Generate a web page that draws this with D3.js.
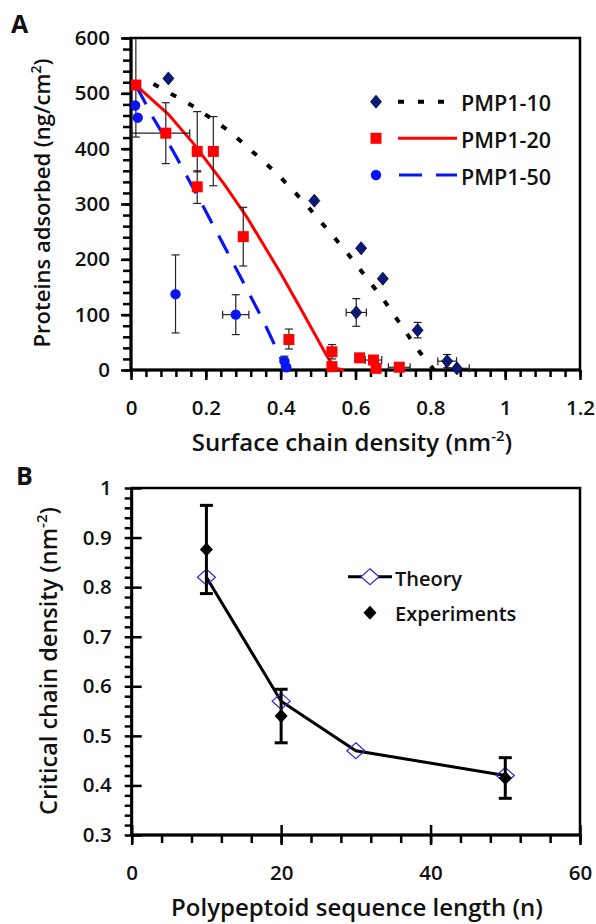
<!DOCTYPE html>
<html>
<head>
<meta charset="utf-8">
<script src="https://cdn.jsdelivr.net/npm/d3@7"></script>
<style>
  body { margin: 0; background: #fff; }
  svg text { font-family: "Open Sans", Lato, sans-serif; font-weight: 600; fill: #111; }
</style>
</head>
<body>
<svg id="main-vis"></svg>
<script>
// ---- panel A data: proteins adsorbed vs surface chain density ----
// points: [x, y, xlo, xhi, ylo, yhi] (null = no error bar)
const pmp10Points = [
  [0.10, 527, null, null, null, null],
  [0.49, 306, null, null, null, null],
  [0.615, 220, null, null, null, null],
  [0.673, 165, null, null, null, null],
  [0.602, 104, 0.575, 0.629, 79, 129],
  [0.766, 72, null, null, 58, 86],
  [0.845, 16, 0.82, 0.87, 4, 28],
  [0.871, 3, 0.84, 0.904, null, null]
];
const pmp20Points = [
  [0.013, 515, null, null, 421, 620],
  [0.093, 428, 0.002, 0.157, 373, 483],
  [0.177, 395, null, null, 358, 467],
  [0.177, 331, null, null, 301, 360],
  [0.22, 395, null, null, 333, 458],
  [0.30, 241, null, null, 188, 294],
  [0.422, 55, null, null, 38, 74],
  [0.537, 33, null, null, 20, 46],
  [0.537, 6, null, null, null, null],
  [0.611, 22, null, null, null, null],
  [0.648, 18, 0.626, 0.67, null, null],
  [0.655, 3, null, null, null, null],
  [0.717, 5, 0.688, 0.746, null, null]
];
const pmp50Points = [
  [0.011, 478, null, null, null, null],
  [0.018, 456, null, null, null, null],
  [0.119, 137, null, null, 67, 208],
  [0.28, 100, 0.245, 0.315, 64, 136],
  [0.41, 16, null, null, 7, 25],
  [0.415, 5, null, null, null, null]
];
// model curves
const pmp10Curve = [[0.06, 517], [0.171, 475], [0.264, 431], [0.389, 356], [0.464, 302], [0.573, 216], [0.675, 127], [0.771, 33], [0.81, 0]];
const pmp20Curve = [[0.013, 515], [0.1, 462], [0.166, 410], [0.25, 335], [0.309, 277], [0.4, 175], [0.451, 114], [0.522, 27], [0.545, 3], [0.57, 0]];
const pmp50Curve = [[0.015, 512], [0.06, 455], [0.113, 395], [0.184, 307], [0.264, 205], [0.353, 90], [0.415, 0]];

const aXTicks = [0, 0.2, 0.4, 0.6, 0.8, 1, 1.2];
const aXLabels = ["0", "0.2", "0.4", "0.6", "0.8", "1", "1.2"];
const aYTicks = [0, 100, 200, 300, 400, 500, 600];
const aYLabels = ["0", "100", "200", "300", "400", "500", "600"];
const aLegend = ["PMP1-10", "PMP1-20", "PMP1-50"];

// ---- panel B data: critical chain density vs sequence length ----
const seqLength = [10, 20, 30, 50];
const theory = [0.82, 0.57, 0.47, 0.42];
const expLength = [10, 20, 50];
const experiments = [0.876, 0.540, 0.415];
const expErr = [0.089, 0.054, 0.041];

const bXTicks = [0, 20, 40, 60];
const bXLabels = ["0", "20", "40", "60"];
const bYTicks = [0.3, 0.4, 0.5, 0.6, 0.7, 0.8, 0.9, 1];
const bYLabels = ["0.3", "0.4", "0.5", "0.6", "0.7", "0.8", "0.9", "1"];
const bLegend = ["Theory", "Experiments"];

const width = 596;
const height = 924;
const svg = d3.select("#main-vis").attr("width", width).attr("height", height);

const navy = "#0b1a78";
const red = "#ff0000";
const blue = "#0a14f5";
const tickFont = 20.5;
const titleFont = 24;

function diamond(w, h) {
  return `M0,${-h}L${w},0L0,${h}L${-w},0Z`;
}

// draw a framed axis box with major + minor ticks
function drawAxes(x, y, opt) {
  const [x0, x1] = x.range();
  const [y0, y1] = y.range(); // y0 bottom, y1 top
  const g = svg.append("g");

  // frame
  g.append("rect")
    .attr("x", x0).attr("y", y1)
    .attr("width", x1 - x0).attr("height", y0 - y1)
    .attr("fill", "none").attr("stroke", "#000").attr("stroke-width", 2.5);

  // minor ticks
  g.append("g").attr("transform", `translate(0,${y0})`)
    .call(d3.axisBottom(x).tickValues(opt.xMinor).tickSize(opt.xMinorLen).tickFormat(""))
    .call(a => a.select(".domain").remove());
  g.append("g").attr("transform", `translate(${x0},0)`)
    .call(d3.axisLeft(y).tickValues(opt.yMinor).tickSize(opt.yMinorLen).tickFormat(""))
    .call(a => a.select(".domain").remove());

  // major ticks with labels
  const xa = g.append("g").attr("transform", `translate(0,${y0})`)
    .call(d3.axisBottom(x).tickValues(opt.xTicks).tickSize(opt.xMajorLen).tickPadding(20)
      .tickFormat((d, i) => opt.xLabels[i]))
    .call(a => a.select(".domain").remove());
  const ya = g.append("g").attr("transform", `translate(${x0},0)`)
    .call(d3.axisLeft(y).tickValues(opt.yTicks).tickSize(opt.yMajorLen).tickPadding(opt.yPad)
      .tickFormat((d, i) => opt.yLabels[i]))
    .call(a => a.select(".domain").remove());

  if (opt.crossing) {
    xa.selectAll(".tick line").attr("y1", -10);
    ya.selectAll(".tick line").attr("x2", 10);
  }

  g.selectAll(".tick line").attr("stroke", "#000").attr("stroke-width", 2.5);
  g.selectAll(".tick text").attr("font-size", tickFont).attr("fill", "#111")
    .style("font-family", "'Open Sans', sans-serif").style("font-weight", 600);

  // thick bottom + left axis lines
  g.append("line").attr("x1", x0).attr("x2", x1).attr("y1", y0).attr("y2", y0)
    .attr("stroke", "#000").attr("stroke-width", 3);
  g.append("line").attr("x1", x0).attr("x2", x0).attr("y1", y0).attr("y2", y1)
    .attr("stroke", "#000").attr("stroke-width", 3);
}

// ================= Panel A =================
const xA = d3.scaleLinear().domain([0, 1.2]).range([131, 580]);
const yA = d3.scaleLinear().domain([0, 600]).range([370, 38]);

drawAxes(xA, yA, {
  xTicks: aXTicks, xLabels: aXLabels, yTicks: aYTicks, yLabels: aYLabels,
  xMinor: d3.range(0, 1.2001, 0.04), yMinor: d3.range(0, 601, 20),
  xMajorLen: 10, xMinorLen: 7, yMajorLen: 10, yMinorLen: 8, yPad: 11
});

svg.append("clipPath").attr("id", "clipA")
  .append("rect").attr("x", 131).attr("y", 38).attr("width", 449).attr("height", 340);

const plotA = svg.append("g").attr("clip-path", "url(#clipA)");

const lineA = d3.line().x(d => xA(d[0])).y(d => yA(d[1]));

plotA.append("path").datum(pmp10Curve).attr("d", lineA)
  .attr("fill", "none").attr("stroke", "#000").attr("stroke-width", 4).attr("stroke-dasharray", "6,14");
plotA.append("path").datum(pmp20Curve).attr("d", lineA)
  .attr("fill", "none").attr("stroke", red).attr("stroke-width", 3);
plotA.append("path").datum(pmp50Curve).attr("d", lineA)
  .attr("fill", "none").attr("stroke", blue).attr("stroke-width", 3.2).attr("stroke-dasharray", "20,14");

function errorBarsA(points) {
  const cap = 4;
  points.forEach(p => {
    const [x, y, xlo, xhi, ylo, yhi] = p;
    const eb = plotA.append("g").attr("stroke", "#222").attr("stroke-width", 1.2);
    if (ylo !== null) {
      eb.append("line").attr("x1", xA(x)).attr("x2", xA(x)).attr("y1", yA(ylo)).attr("y2", yA(yhi));
      [ylo, yhi].forEach(v => eb.append("line")
        .attr("x1", xA(x) - cap).attr("x2", xA(x) + cap).attr("y1", yA(v)).attr("y2", yA(v)));
    }
    if (xlo !== null) {
      eb.append("line").attr("x1", xA(xlo)).attr("x2", xA(xhi)).attr("y1", yA(y)).attr("y2", yA(y));
      [xlo, xhi].forEach(v => eb.append("line")
        .attr("x1", xA(v)).attr("x2", xA(v)).attr("y1", yA(y) - cap).attr("y2", yA(y) + cap));
    }
  });
}
errorBarsA(pmp10Points);
errorBarsA(pmp20Points);
errorBarsA(pmp50Points);

plotA.selectAll(".m10").data(pmp10Points).enter().append("path")
  .attr("d", diamond(5.5, 6.5))
  .attr("transform", d => `translate(${xA(d[0])},${yA(d[1])})`)
  .attr("fill", navy).attr("stroke", "#000030").attr("stroke-width", 0.8);
plotA.selectAll(".m20").data(pmp20Points).enter().append("rect")
  .attr("x", d => xA(d[0]) - 5.5).attr("y", d => yA(d[1]) - 5.5)
  .attr("width", 11).attr("height", 11).attr("fill", red);
plotA.selectAll(".m50").data(pmp50Points).enter().append("circle")
  .attr("cx", d => xA(d[0])).attr("cy", d => yA(d[1])).attr("r", 5.2).attr("fill", blue);

// legend A
const legA = svg.append("g");
const legRows = [101.7, 138.3, 175];
legA.append("path").attr("d", diamond(5.5, 6.5)).attr("transform", `translate(376,${legRows[0]})`)
  .attr("fill", navy).attr("stroke", "#000030").attr("stroke-width", 0.8);
legA.append("line").attr("x1", 398).attr("x2", 448).attr("y1", legRows[0]).attr("y2", legRows[0])
  .attr("stroke", "#000").attr("stroke-width", 4).attr("stroke-dasharray", "6,14");
legA.append("rect").attr("x", 370.5).attr("y", legRows[1] - 5.5).attr("width", 11).attr("height", 11).attr("fill", red);
legA.append("line").attr("x1", 398).attr("x2", 457).attr("y1", legRows[1]).attr("y2", legRows[1])
  .attr("stroke", red).attr("stroke-width", 3);
legA.append("circle").attr("cx", 376).attr("cy", legRows[2]).attr("r", 5.2).attr("fill", blue);
legA.append("line").attr("x1", 399).attr("x2", 457).attr("y1", legRows[2]).attr("y2", legRows[2])
  .attr("stroke", blue).attr("stroke-width", 3.2).attr("stroke-dasharray", "23,14");
legA.selectAll("text").data(aLegend).enter().append("text")
  .attr("x", 461).attr("y", (d, i) => legRows[i] + 9.5)
  .attr("font-size", 21.5).text(d => d);

// titles A
const titleA = svg.append("text").attr("transform", "translate(50,203) rotate(-90)")
  .attr("text-anchor", "middle").attr("font-size", 22);
titleA.append("tspan").text("Proteins adsorbed (ng/cm");
titleA.append("tspan").attr("font-size", 14).attr("dy", -9).text("2");
titleA.append("tspan").attr("dy", 9).text(")");

const xTitleA = svg.append("text").attr("x", 352).attr("y", 451)
  .attr("text-anchor", "middle").attr("font-size", titleFont);
xTitleA.append("tspan").text("Surface chain density (nm");
xTitleA.append("tspan").attr("font-size", 15).attr("dy", -10).text("-2");
xTitleA.append("tspan").attr("dy", 10).text(")");

svg.append("text").attr("x", 11).attr("y", 33).attr("font-size", 25).style("font-weight", 700).text("A");

// ================= Panel B =================
const xB = d3.scaleLinear().domain([0, 60]).range([131.7, 580]);
const yB = d3.scaleLinear().domain([0.3, 1]).range([835, 488]);

drawAxes(xB, yB, {
  xTicks: bXTicks, xLabels: bXLabels, yTicks: bYTicks, yLabels: bYLabels,
  xMinor: d3.range(0, 60.01, 4), yMinor: d3.range(0.3, 1.0001, 0.02),
  xMajorLen: 10, xMinorLen: 8, yMajorLen: 9, yMinorLen: 7, yPad: 11, crossing: true
});

const theoryData = seqLength.map((n, i) => [n, theory[i]]);
const expData = expLength.map((n, i) => [n, experiments[i], expErr[i]]);

svg.append("path").datum(theoryData)
  .attr("d", d3.line().x(d => xB(d[0])).y(d => yB(d[1])))
  .attr("fill", "none").attr("stroke", "#000").attr("stroke-width", 3);

svg.selectAll(".th").data(theoryData).enter().append("path")
  .attr("d", diamond(9, 8))
  .attr("transform", d => `translate(${xB(d[0])},${yB(d[1])})`)
  .attr("fill", "none").attr("stroke", "#2a2ad0").attr("stroke-width", 1.2);

const ebB = svg.append("g").attr("stroke", "#000").attr("stroke-width", 3);
expData.forEach(d => {
  const cx = xB(d[0]);
  ebB.append("line").attr("x1", cx).attr("x2", cx).attr("y1", yB(d[1] - d[2])).attr("y2", yB(d[1] + d[2]));
  [d[1] - d[2], d[1] + d[2]].forEach(v => ebB.append("line")
    .attr("x1", cx - 6.5).attr("x2", cx + 6.5).attr("y1", yB(v)).attr("y2", yB(v)));
});

svg.selectAll(".ex").data(expData).enter().append("path")
  .attr("d", diamond(6.5, 7))
  .attr("transform", d => `translate(${xB(d[0])},${yB(d[1])})`)
  .attr("fill", "#000");

// legend B
const legB = svg.append("g");
legB.append("line").attr("x1", 348).attr("x2", 392).attr("y1", 576.7).attr("y2", 576.7)
  .attr("stroke", "#000").attr("stroke-width", 3);
legB.append("path").attr("d", diamond(9, 8)).attr("transform", "translate(370,576.7)")
  .attr("fill", "#fff").attr("stroke", "#2a2ad0").attr("stroke-width", 1.2);
legB.append("path").attr("d", diamond(6.5, 7)).attr("transform", "translate(370,612.7)").attr("fill", "#000");
legB.selectAll("text").data(bLegend).enter().append("text")
  .attr("x", 395).attr("y", (d, i) => [585.5, 620.5][i])
  .attr("font-size", 20).text(d => d);

const titleB = svg.append("text").attr("transform", "translate(57,661) rotate(-90)")
  .attr("text-anchor", "middle").attr("font-size", 23.5);
titleB.append("tspan").text("Critical chain density (nm");
titleB.append("tspan").attr("font-size", 15).attr("dy", -10).text("-2");
titleB.append("tspan").attr("dy", 10).text(")");

svg.append("text").attr("x", 357).attr("y", 916).attr("text-anchor", "middle")
  .attr("font-size", titleFont).text("Polypeptoid sequence length (n)");

svg.append("text").attr("x", 16).attr("y", 485).attr("font-size", 25).style("font-weight", 700).text("B");
</script>
</body>
</html>
